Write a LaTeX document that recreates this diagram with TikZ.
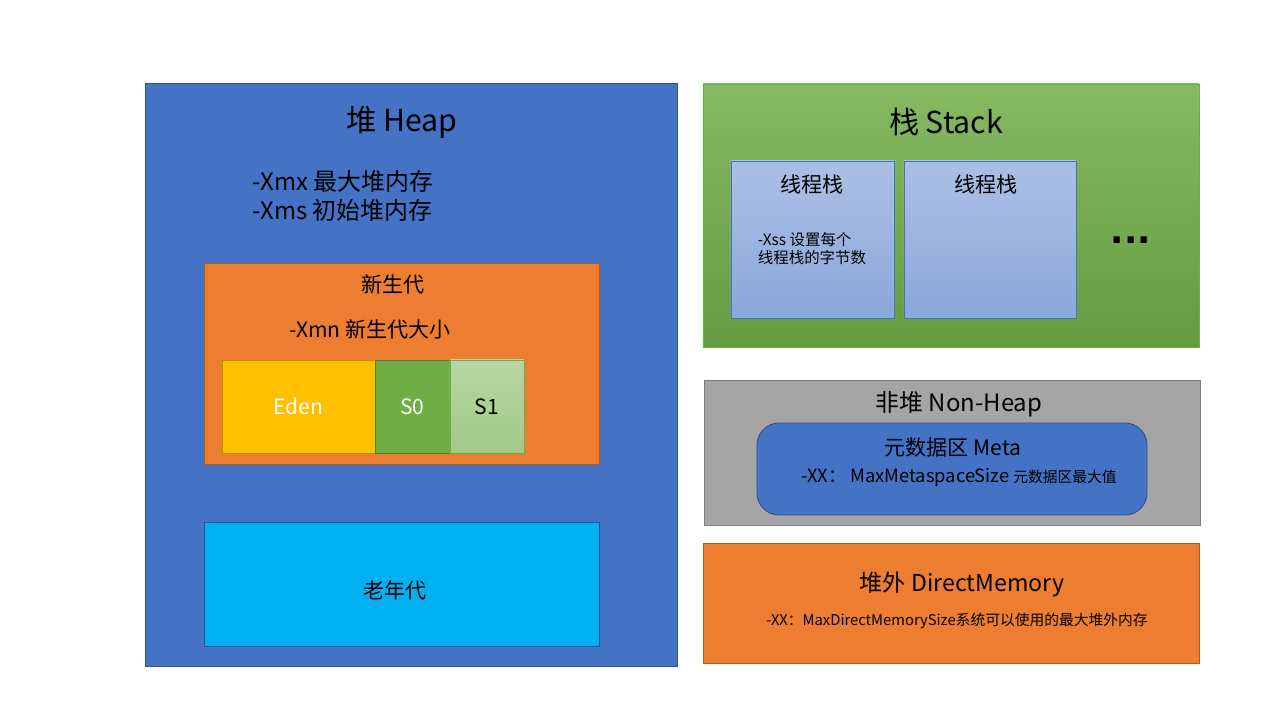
\documentclass[tikz,border=0pt]{standalone}
\usepackage{fontspec}
\setmainfont{Noto Sans CJK SC}
\newfontfamily\dotsfont{DejaVu Sans}
\definecolor{HeapBlue}{HTML}{4472C4}
\definecolor{HeapEdge}{HTML}{2F528F}
\definecolor{YoungOrange}{HTML}{ED7D31}
\definecolor{YoungEdge}{HTML}{AE5A21}
\definecolor{EdenGold}{HTML}{FFC000}
\definecolor{EdenEdge}{HTML}{BF9000}
\definecolor{SurvGreen}{HTML}{70AD47}
\definecolor{SurvEdge}{HTML}{507E32}
\definecolor{OldCyan}{HTML}{00B0F0}
\definecolor{NonHeapGray}{HTML}{A5A5A5}
\definecolor{NonHeapEdge}{HTML}{7F7F7F}
\usetikzlibrary{positioning}

\newcommand{\fs}[2]{\fontsize{#1}{#2}\selectfont}

\begin{document}
\begin{tikzpicture}[x=0.025cm, y=-0.025cm,
  area/.style={draw, rectangle, line width=0.6pt, inner sep=0pt},
  big/.style={font=\fs{21.5pt}{26pt}},
  mid/.style={font=\fs{17pt}{20pt}},
  small/.style={font=\fs{15pt}{18pt}},
  tiny/.style={font=\fs{11pt}{12.8pt}}]
  \useasboundingbox[fill=white] (0,0) rectangle (1280,720);

  % heap side
  \node[area, fill=HeapBlue, draw=HeapEdge, minimum width=13.3cm, minimum height=14.55cm] (heap) at (411,375) {};
  \node[big] (heapt) at (402,122) {堆 Heap};
  \node[mid, anchor=west, align=left] (heapopt) at (248,196) {-Xmx 最大堆内存\\-Xms 初始堆内存};
  \node[area, fill=YoungOrange, draw=YoungEdge, minimum width=9.875cm, minimum height=5.025cm] (young) at (401.5,363.5) {};
  \node[small] (youngt) at (393,284) {新生代};
  \node[small] (youngopt) at (370,329) {-Xmn 新生代大小};
  \node[area, fill=EdenGold, draw=EdenEdge, minimum width=3.825cm, minimum height=2.325cm, small, text=white] (eden) at (298.5,406.5) {Eden};
  \node[area, fill=SurvGreen, draw=SurvEdge, minimum width=1.875cm, minimum height=2.325cm, small, text=white] (s0) at (412.5,406.5) {S0};
  \node[area, top color=SurvGreen!50, bottom color=SurvGreen!65, draw=SurvGreen, minimum width=1.85cm, minimum height=2.325cm, small] (s1) at (487,406.5) {S1};
  \node[area, fill=OldCyan, draw=HeapEdge, minimum width=9.875cm, minimum height=3.1cm] (old) at (401.5,584) {};
  \node[small] (oldt) at (395,590) {老年代};

  % stack side
  \node[area, top color=SurvGreen!85, bottom color=SurvGreen!90!black, draw=SurvGreen, minimum width=12.4cm, minimum height=6.575cm] (stack) at (951,215.5) {};
  \node[big] (stackt) at (946,122) {栈 Stack};
  \node[area, top color=HeapBlue!45, bottom color=HeapBlue!62, draw=HeapBlue, minimum width=4.075cm, minimum height=3.925cm] (thread1) at (812.5,239.5) {};
  \node[small] (thread1t) at (812,184) {线程栈};
  \node[tiny, align=left] (xss) at (812,249) {-Xss 设置每个\\线程栈的字节数};
  \node[area, top color=HeapBlue!45, bottom color=HeapBlue!62, draw=HeapBlue, minimum width=4.3cm, minimum height=3.925cm] (thread2) at (990,239.5) {};
  \node[small] (thread2t) at (986,184) {线程栈};
  \node[font=\dotsfont\fs{25pt}{30pt}\bfseries] (more) at (1131,240) {...};

  % non-heap
  \node[area, fill=NonHeapGray, draw=NonHeapEdge, minimum width=12.4cm, minimum height=3.625cm] (nonheap) at (952,452.5) {};
  \node[mid] (nonheapt) at (959,404) {非堆 Non-Heap};
  \node[area, fill=HeapBlue, draw=HeapEdge, rounded corners=0.55cm, minimum width=9.75cm, minimum height=2.3cm] (meta) at (952,469) {};
  \node[small] (metat) at (953,448) {元数据区 Meta};
  \node[font=\fs{13pt}{16pt}] (metaopt) at (959,478) {-XX： MaxMetaspaceSize {\fs{10.5pt}{12pt}元数据区最大值}};

  % direct memory
  \node[area, fill=YoungOrange, draw=YoungEdge, minimum width=12.4cm, minimum height=3cm] (direct) at (951,603) {};
  \node[font=\fs{16.5pt}{20pt}] (directt) at (962,584) {堆外 DirectMemory};
  \node[font=\fs{10.5pt}{12pt}] (directopt) at (957,621) {-XX：MaxDirectMemorySize系统可以使用的最大堆外内存};
\end{tikzpicture}
\end{document}
